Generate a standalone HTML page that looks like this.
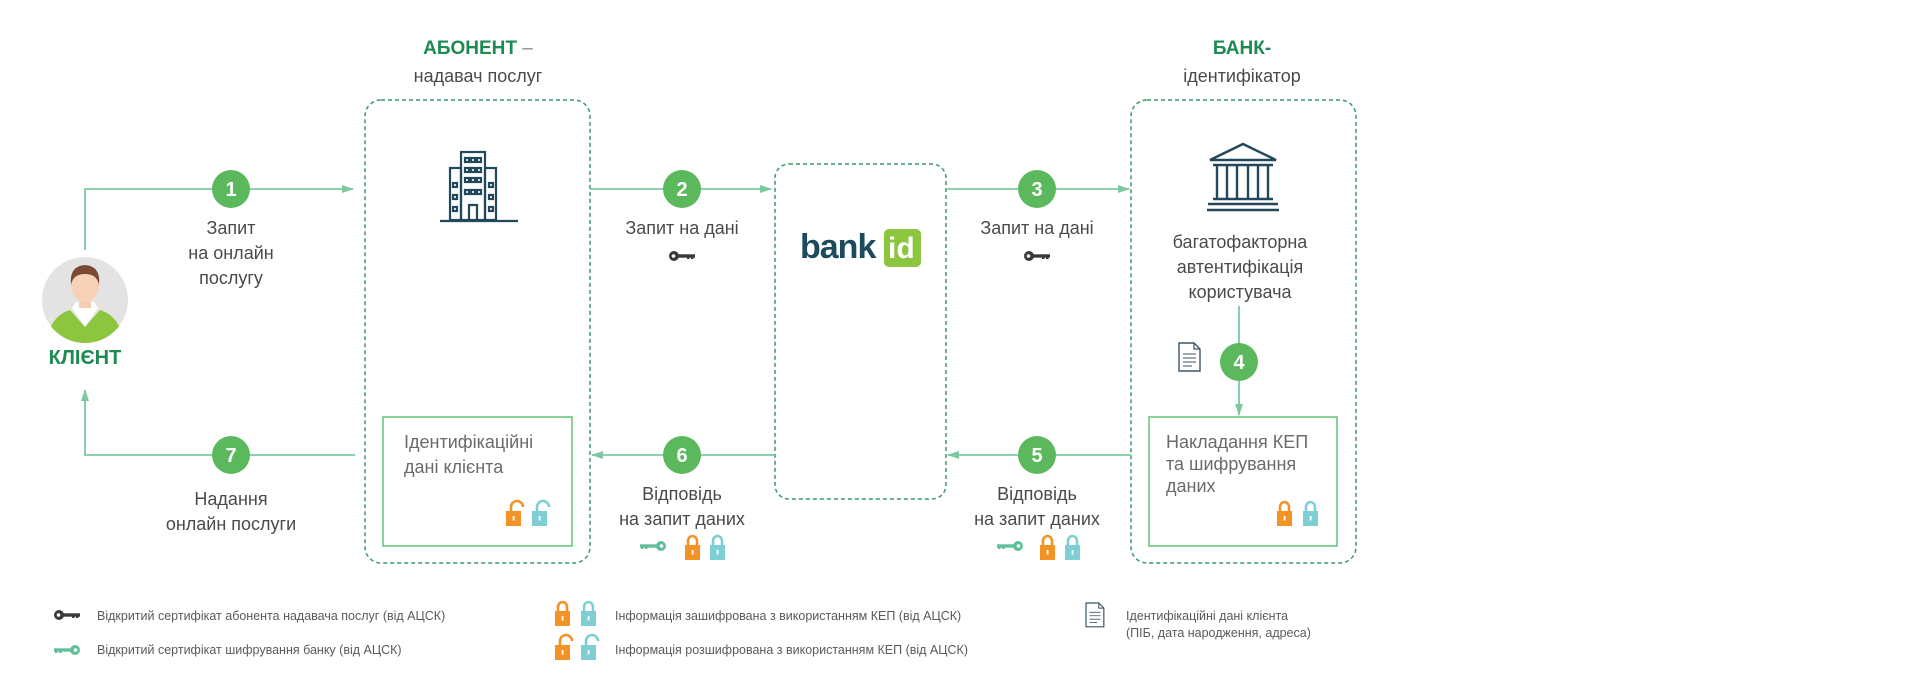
<!DOCTYPE html>
<html><head><meta charset="utf-8"><style>
html,body{margin:0;padding:0;background:#fff;width:1920px;height:674px;overflow:hidden}
svg{display:block}
text{font-family:"Liberation Sans",sans-serif}
.t{fill:#4a4a4a;font-size:18px;text-anchor:middle}
.tl{fill:#6a6a6a;font-size:18px}
.lg{fill:#5a5a5a;font-size:12.5px}
.num{fill:#fff;font-size:20px;font-weight:bold;text-anchor:middle}
</style></head><body>
<svg width="1920" height="674" viewBox="0 0 1920 674" xmlns="http://www.w3.org/2000/svg">
<defs>
<marker id="ar" markerWidth="12" markerHeight="10" refX="11" refY="5" orient="auto" markerUnits="userSpaceOnUse"><path d="M0,1 L12,5 L0,9 Z" fill="#7cc9a0"/></marker>
<g id="lockO"><path d="M5,10 V6 a6,6 0 0 1 12,0" fill="none" stroke="#f39325" stroke-width="2.6"/><rect x="0" y="10" width="15" height="15" fill="#f39325"/><rect x="6.7" y="15" width="1.8" height="4.5" fill="#fff"/></g>
<g id="lockT"><path d="M5,10 V6 a6,6 0 0 1 12,0" fill="none" stroke="#7ecfd3" stroke-width="2.6"/><rect x="0" y="10" width="15" height="15" fill="#7ecfd3"/><rect x="6.7" y="15" width="1.8" height="4.5" fill="#fff"/></g>
<g id="lockOc"><path d="M3,10 V6 a4.5,5 0 0 1 9,0 V10" fill="none" stroke="#f39325" stroke-width="2.6"/><rect x="0" y="10" width="15" height="15" fill="#f39325"/><rect x="6.7" y="15" width="1.8" height="4.5" fill="#fff"/></g>
<g id="lockTc"><path d="M3,10 V6 a4.5,5 0 0 1 9,0 V10" fill="none" stroke="#7ecfd3" stroke-width="2.6"/><rect x="0" y="10" width="15" height="15" fill="#7ecfd3"/><rect x="6.7" y="15" width="1.8" height="4.5" fill="#fff"/></g>
<g id="keyD"><circle cx="5" cy="5" r="5" fill="#3a3a3a"/><circle cx="4.5" cy="5" r="1.8" fill="#fff"/><rect x="9" y="3.3" width="17" height="3.4" fill="#3a3a3a"/><rect x="18" y="5" width="2.5" height="3" fill="#3a3a3a"/><rect x="22" y="5" width="2.5" height="3" fill="#3a3a3a"/></g>
<g id="keyG"><circle cx="21" cy="5" r="5" fill="#5fbf9a"/><circle cx="21.5" cy="5" r="1.8" fill="#fff"/><rect x="0" y="3.3" width="17" height="3.4" fill="#5fbf9a"/><rect x="5" y="5" width="2.5" height="3" fill="#5fbf9a"/><rect x="1" y="5" width="2.5" height="3" fill="#5fbf9a"/></g>
<g id="doc"><path d="M0,0 H15 L21,6 V28 H0 Z" fill="#fff" stroke="#3b5566" stroke-width="1.4"/><path d="M15,0 V6 H21" fill="none" stroke="#3b5566" stroke-width="1.2"/><path d="M4,11 H17 M4,15 H17 M4,19 H17 M4,23 H13" stroke="#3b5566" stroke-width="1"/></g>
</defs>

<text x="478" y="54" text-anchor="middle" font-size="19" font-weight="bold" fill="#1d8a52">АБОНЕНТ <tspan fill="#888" font-weight="normal">–</tspan></text>
<text x="478" y="82" class="t" font-size="19">надавач послуг</text>
<text x="1242" y="54" text-anchor="middle" font-size="19" font-weight="bold" fill="#1d8a52">БАНК-</text>
<text x="1242" y="82" class="t" font-size="19">ідентифікатор</text>

<rect x="365" y="100" width="225" height="463" rx="16" fill="none" stroke="#3a9a6a" stroke-width="1.5" stroke-dasharray="4,3"/>
<rect x="775" y="164" width="171" height="335" rx="14" fill="none" stroke="#3a9a6a" stroke-width="1.5" stroke-dasharray="4,3"/>
<rect x="1131" y="100" width="225" height="463" rx="16" fill="none" stroke="#3a9a6a" stroke-width="1.5" stroke-dasharray="4,3"/>
<rect x="383" y="417" width="189" height="129" fill="none" stroke="#6cc77f" stroke-width="1.6"/>
<rect x="1149" y="417" width="188" height="129" fill="none" stroke="#6cc77f" stroke-width="1.6"/>

<g stroke="#7cc9a0" stroke-width="1.8" fill="none">
<path d="M85,250 V189 H353" marker-end="url(#ar)"/>
<path d="M590,189 H771" marker-end="url(#ar)"/>
<path d="M946,189 H1129" marker-end="url(#ar)"/>
<path d="M1239,306 V415" marker-end="url(#ar)"/>
<path d="M1131,455 H948" marker-end="url(#ar)"/>
<path d="M775,455 H592" marker-end="url(#ar)"/>
<path d="M355,455 H85 V390" marker-end="url(#ar)"/>
</g>

<g fill="#5cb85c">
<circle cx="231" cy="189" r="19"/><circle cx="682" cy="189" r="19"/><circle cx="1037" cy="189" r="19"/>
<circle cx="1239" cy="362" r="19"/><circle cx="1037" cy="455" r="19"/><circle cx="682" cy="455" r="19"/><circle cx="231" cy="455" r="19"/>
</g>
<text x="231" y="196" class="num">1</text><text x="682" y="196" class="num">2</text><text x="1037" y="196" class="num">3</text>
<text x="1239" y="369" class="num">4</text><text x="1037" y="462" class="num">5</text><text x="682" y="462" class="num">6</text><text x="231" y="462" class="num">7</text>

<text x="231" y="234" class="t">Запит</text>
<text x="231" y="259" class="t">на онлайн</text>
<text x="231" y="284" class="t">послугу</text>
<text x="682" y="234" class="t">Запит на дані</text>
<use href="#keyD" x="669" y="251"/>
<text x="1037" y="234" class="t">Запит на дані</text>
<use href="#keyD" x="1024" y="251"/>
<text x="231" y="505" class="t">Надання</text>
<text x="231" y="530" class="t">онлайн послуги</text>
<text x="682" y="500" class="t">Відповідь</text>
<text x="682" y="525" class="t">на запит даних</text>
<use href="#keyG" x="640" y="541"/><use href="#lockOc" x="685" y="535"/><use href="#lockTc" x="710" y="535"/>
<text x="1037" y="500" class="t">Відповідь</text>
<text x="1037" y="525" class="t">на запит даних</text>
<use href="#keyG" x="997" y="541"/><use href="#lockOc" x="1040" y="535"/><use href="#lockTc" x="1065" y="535"/>

<text x="1240" y="248" class="t" fill="#777">багатофакторна</text>
<text x="1240" y="273" class="t" fill="#777">автентифікація</text>
<text x="1240" y="298" class="t" fill="#777">користувача</text>

<text x="404" y="448" class="tl">Ідентифікаційні</text>
<text x="404" y="473" class="tl">дані клієнта</text>
<use href="#lockO" x="506" y="501"/><use href="#lockT" x="532" y="501"/>
<text x="1166" y="448" class="tl" font-size="19">Накладання КЕП</text>
<text x="1166" y="470" class="tl" font-size="19">та шифрування</text>
<text x="1166" y="492" class="tl" font-size="19">даних</text>
<use href="#lockOc" x="1277" y="501"/><use href="#lockTc" x="1303" y="501"/>
<use href="#doc" x="1179" y="343"/>

<g fill="none" stroke="#22485a" stroke-width="2.2">
<rect x="461" y="152" width="24" height="68"/>
<rect x="450" y="168" width="11" height="52"/>
<rect x="485" y="168" width="11" height="52"/>
<path d="M440,221 H518"/>
<path d="M469,220 V205 H477 V220"/>
<rect x="465" y="158" width="4" height="4"/><rect x="471" y="158" width="4" height="4"/><rect x="477" y="158" width="4" height="4"/>
<rect x="465" y="168" width="4" height="4"/><rect x="471" y="168" width="4" height="4"/><rect x="477" y="168" width="4" height="4"/>
<rect x="465" y="178" width="4" height="4"/><rect x="471" y="178" width="4" height="4"/><rect x="477" y="178" width="4" height="4"/>
<rect x="465" y="190" width="4" height="4"/><rect x="471" y="190" width="4" height="4"/><rect x="477" y="190" width="4" height="4"/>
<rect x="453" y="183" width="4" height="4"/><rect x="453" y="195" width="4" height="4"/><rect x="453" y="207" width="4" height="4"/>
<rect x="489" y="183" width="4" height="4"/><rect x="489" y="195" width="4" height="4"/><rect x="489" y="207" width="4" height="4"/>
</g>
<g fill="none" stroke="#22485a" stroke-width="2.4">
<path d="M1243,144 L1210,160 H1276 Z"/>
<path d="M1213,165 H1273 M1213,199 H1273 M1208,204 H1278 M1207,210 H1279"/>
<path d="M1217,165 V199 M1227,165 V199 M1237,165 V199 M1248,165 V199 M1258,165 V199 M1268,165 V199"/>
</g>

<text x="800" y="258" font-size="34" font-weight="bold" fill="#1c4b5e" letter-spacing="-1">bank</text>
<rect x="884" y="229" width="37" height="38" rx="5" fill="#8cc63f"/>
<text x="888" y="258" font-size="30" font-weight="bold" fill="#fff">id</text>

<circle cx="85" cy="300" r="43" fill="#e3e3e3"/>
<clipPath id="cc"><circle cx="85" cy="300" r="43"/></clipPath>
<g clip-path="url(#cc)">
<path d="M46,343 Q50,316 70,310 L85,327 L100,310 Q120,316 124,343 Z" fill="#8cc63f"/>
<path d="M72,308 L85,327 L98,308 L94,302 H76 Z" fill="#fff"/>
<rect x="79" y="296" width="12" height="12" fill="#f6cdb4"/>
<ellipse cx="85" cy="285" rx="14" ry="17" fill="#f7d1b8"/>
<path d="M71,285 Q69,266 85,265 Q101,266 99,285 Q97,274 85,274 Q73,274 71,285 Z" fill="#7a4a32"/>
</g>
<text x="85" y="364" text-anchor="middle" font-size="20" font-weight="bold" fill="#1d8a52">КЛІЄНТ</text>

<use href="#keyD" x="54" y="610"/>
<text x="97" y="620" class="lg">Відкритий сертифікат абонента надавача послуг (від АЦСК)</text>
<use href="#keyG" x="54" y="645"/>
<text x="97" y="654" class="lg">Відкритий сертифікат шифрування банку (від АЦСК)</text>
<use href="#lockOc" x="555" y="601"/><use href="#lockTc" x="581" y="601"/>
<use href="#lockO" x="555" y="635"/><use href="#lockT" x="581" y="635"/>
<text x="615" y="620" class="lg">Інформація зашифрована з використанням КЕП (від АЦСК)</text>
<text x="615" y="654" class="lg">Інформація розшифрована з використанням КЕП (від АЦСК)</text>
<g transform="translate(1086,603) scale(0.85)"><use href="#doc"/></g>
<text x="1126" y="620" class="lg">Ідентифікаційні дані клієнта</text>
<text x="1126" y="637" class="lg">(ПІБ, дата народження, адреса)</text>
</svg>
</body></html>
